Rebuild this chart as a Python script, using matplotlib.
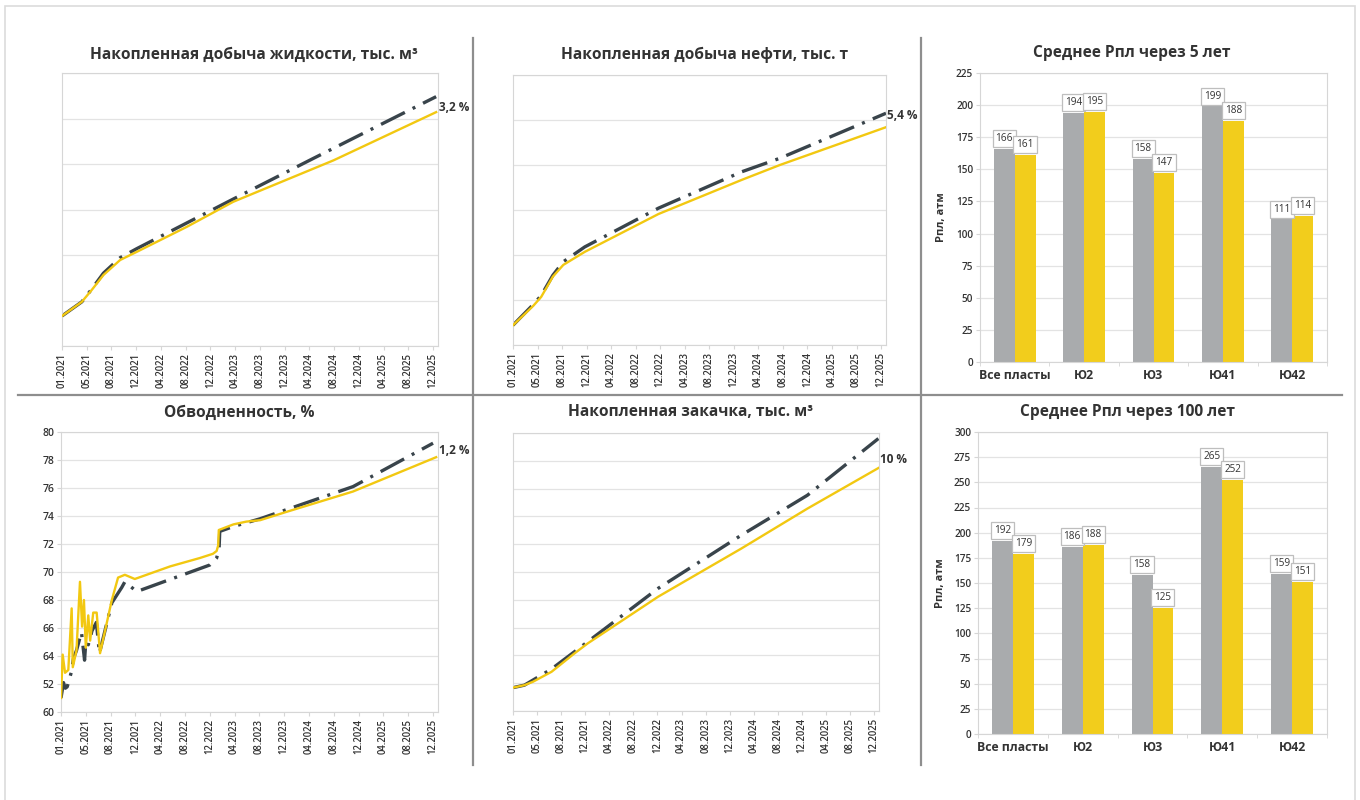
import matplotlib
matplotlib.use("Agg")
import matplotlib.pyplot as plt
from matplotlib.lines import Line2D
from matplotlib.patches import Rectangle
import numpy as np

plt.rcParams['font.family'] = ['Open Sans', 'DejaVu Sans']

W, H = 1360, 800
YELLOW = "#F2C811"
DARK = "#39444B"
BAR_GRAY = "#A9ABAD"
BAR_YELLOW = "#F2CD1C"
GRID = "#E3E3E3"
SPINE = "#D6D6D6"
TEXT = "#333333"

# monthly axis, labels every 4th category
date_labels = ["01.2021", "05.2021", "08.2021", "12.2021", "04.2022", "08.2022",
               "12.2022", "04.2023", "08.2023", "12.2023", "04.2024", "08.2024",
               "12.2024", "04.2025", "08.2025", "12.2025"]
date_ticks = list(range(0, 61, 4))

# cumulative liquid (grid units)
liq_new_m = [0, 3.2, 4.8, 6.7, 9.4, 12.1, 20.2, 27.7, 43.9, 60.5]
liq_new_v = [0.66, 0.97, 1.23, 1.56, 1.89, 2.07, 2.62, 3.17, 4.08, 5.14]
liq_base_m = [0, 3.2, 4.8, 6.7, 9.4, 12.1, 27.7, 40.6, 60.5]
liq_base_v = [0.66, 0.97, 1.25, 1.60, 1.94, 2.14, 3.23, 4.12, 5.48]

# cumulative oil
oil_m = [0, 3.3, 4.6, 6.5, 8.2, 11.7, 23.7, 37.3, 43.5, 60.8]
oil_new_v = [0.44, 0.87, 1.07, 1.52, 1.78, 2.07, 2.91, 3.67, 4.00, 4.84]
oil_base_v = [0.44, 0.90, 1.10, 1.55, 1.85, 2.18, 3.04, 3.85, 4.15, 5.15]

# water cut, %
wc_new_m = [0, 0.27, 0.65, 1.18, 1.72, 1.9, 2.5, 3.06, 3.4, 3.7, 4.0, 4.4, 4.7,
            5.2, 5.75, 6.3, 8.2, 9.2, 10.3, 11.9, 17.6, 22.4, 24.5, 25.1, 25.35,
            25.45, 27.8, 29.9, 32.1, 36.4, 40.1, 47.1, 60.5]
wc_new_v = [61.0, 64.1, 62.8, 63.0, 67.4, 63.2, 64.4, 69.3, 66.1, 68.0, 64.6, 66.9,
            65.1, 67.1, 67.1, 64.2, 68.0, 69.6, 69.8, 69.5, 70.4, 71.0, 71.3, 71.5,
            71.9, 73.0, 73.4, 73.6, 73.7, 74.3, 74.8, 75.75, 78.2]
wc_base_m = [0, 0.4, 0.7, 1.0, 1.7, 2.0, 2.5, 3.3, 3.8, 4.0, 4.4, 5.0, 5.7, 6.2,
             8.2, 9.8, 10.3, 11.4, 12.2, 24.0, 25.1, 25.5, 25.6, 27.8, 32.1, 47.1, 60.0]
wc_base_v = [61.0, 62.1, 61.7, 61.8, 62.9, 63.8, 64.4, 65.7, 63.7, 65.0, 64.8, 65.8,
             66.4, 64.2, 67.8, 68.9, 69.3, 68.9, 68.6, 70.5, 71.0, 71.7, 72.9, 73.25,
             73.8, 76.1, 79.2]
wc_ticks = list(range(60, 81, 2))
wc_tick_labels = ["60", "52", "64", "66", "68", "70", "72", "74", "76", "78", "80"]

# cumulative injection
inj_m = [0, 1.9, 3.3, 6.4, 10.2, 12.4, 24.1, 37.9, 48.9, 60.7]
inj_new_v = [0.84, 0.93, 1.05, 1.41, 2.07, 2.43, 4.11, 5.84, 7.28, 8.74]
inj_base_v = [0.84, 0.93, 1.11, 1.51, 2.13, 2.49, 4.41, 6.32, 7.76, 9.80]

# reservoir pressure by layer
layers = ["Все пласты", "Ю2", "Ю3", "Ю41", "Ю42"]
p5_base = [166, 194, 158, 199, 111]
p5_new = [161, 195, 147, 188, 114]
p100_base = [192, 186, 158, 265, 159]
p100_new = [179, 188, 125, 252, 151]


def px_axes(fig, x0, y0, x1, y1):
    return fig.add_axes([x0 / W, 1 - y1 / H, (x1 - x0) / W, (y1 - y0) / H])


def style_frame(ax):
    for s in ax.spines.values():
        s.set_color(SPINE)
        s.set_linewidth(0.8)
    ax.set_axisbelow(True)
    ax.grid(axis="y", color=GRID, lw=0.9)


def line_panel(fig, rect, m_new, v_new, m_base, v_base, ylim, pct, pct_y,
               yticks=None, ylabels=None):
    ax = px_axes(fig, *rect)
    style_frame(ax)
    ax.plot(m_base, v_base, color=DARK, lw=2.4, ls=(0, (8, 2.6, 0.9, 2.6)), zorder=2)
    ax.plot(m_new, v_new, color=YELLOW, lw=1.7, zorder=3)
    ax.set_xlim(0, 60.8)
    ax.set_ylim(*ylim)
    ax.set_xticks(date_ticks)
    ax.set_xticklabels(date_labels, rotation=90, fontsize=6.9, color=TEXT,
                       fontweight="semibold")
    ax.tick_params(axis="x", length=3, color=SPINE, pad=2)
    if yticks is None:
        ax.set_yticks(np.arange(ylim[0], ylim[1] + 1, 1))
        ax.tick_params(axis="y", length=0, labelleft=False)
    else:
        ax.set_yticks(yticks)
        ax.set_yticklabels(ylabels, fontsize=7.5, color=TEXT, fontweight="semibold")
        ax.tick_params(axis="y", length=3, color=SPINE, pad=2)
    ax.text(61.0, pct_y, pct, fontsize=8.5, fontweight="bold", color=TEXT,
            ha="left", va="center", clip_on=False)
    return ax


def bar_panel(fig, rect, base, new, ymax, label_x):
    ax = px_axes(fig, *rect)
    style_frame(ax)
    x = np.arange(len(layers))
    w = 0.3
    b1 = ax.bar(x - w / 2, base, w, color=BAR_GRAY, zorder=2)
    b2 = ax.bar(x + w / 2, new, w, color=BAR_YELLOW, zorder=2)
    box = dict(boxstyle="square,pad=0.3", fc="white", ec="#BEBEBE", lw=0.9)
    for bars in (b1, b2):
        for b in bars:
            v = b.get_height()
            ax.annotate(f"{v:.0f}", (b.get_x() + b.get_width() / 2, v),
                        xytext=(0, 3.5), textcoords="offset points",
                        ha="center", va="bottom", fontsize=7.2, color=TEXT,
                        bbox=box, zorder=4)
    ax.set_xlim(-0.5, len(layers) - 0.5)
    ax.set_ylim(0, ymax)
    ax.set_yticks(np.arange(0, ymax + 1, 25))
    ax.tick_params(axis="y", labelsize=7.2, colors=TEXT, length=3, pad=2)
    for t in ax.get_yticklabels():
        t.set_fontweight("semibold")
    ax.tick_params(axis="y", color=SPINE)
    ax.set_xticks(x)
    ax.set_xticklabels(layers, fontsize=8.8, fontweight="bold", color=TEXT)
    ax.tick_params(axis="x", length=0, pad=5)
    ax.set_xticks(np.arange(-0.5, len(layers), 1), minor=True)
    ax.tick_params(axis="x", which="minor", length=3, color=SPINE)
    ax.set_ylabel("Рпл, атм", fontsize=8, fontweight="bold", color=TEXT)
    ax.yaxis.set_label_coords(label_x, 0.5)
    return ax


fig = plt.figure(figsize=(W / 100, H / 100), dpi=100)
fig.patch.set_facecolor("white")

# outer frame and panel separators
fig.add_artist(Rectangle((5 / W, -0.01), 1350 / W, 1 - 6 / H + 0.01,
                         transform=fig.transFigure, fill=False,
                         ec="#DCDCDC", lw=1.2))
for xs, ys in [((473, 473), (38, 765)), ((921, 921), (38, 765)),
               ((18, 1342), (395, 395))]:
    fig.add_artist(Line2D([xs[0] / W, xs[1] / W], [1 - ys[0] / H, 1 - ys[1] / H],
                          transform=fig.transFigure, color="#8E8E8E", lw=1.6))

line_panel(fig, (62, 73, 438, 346), liq_new_m, liq_new_v, liq_base_m, liq_base_v,
           (0, 6), "3,2 %", 5.25)
line_panel(fig, (513, 75, 886, 345), oil_m, oil_new_v, oil_m, oil_base_v,
           (0, 6), "5,4 %", 5.1)
line_panel(fig, (61, 432, 438, 712), wc_new_m, wc_new_v, wc_base_m, wc_base_v,
           (60, 80), "1,2 %", 78.7, yticks=wc_ticks, ylabels=wc_tick_labels)
line_panel(fig, (513, 433, 879, 711), inj_m, inj_new_v, inj_m, inj_base_v,
           (0, 10), "10 %", 9.05)

bar_panel(fig, (980, 73, 1327, 362), p5_base, p5_new, 225, -0.095)
bar_panel(fig, (978, 432, 1327, 734), p100_base, p100_new, 300, -0.092)

titles = [("Накопленная добыча жидкости, тыс. м³", 254, 55),
          ("Накопленная добыча нефти, тыс. т", 705, 55),
          ("Среднее Рпл через 5 лет", 1132, 53),
          ("Обводненность, %", 239, 413),
          ("Накопленная закачка, тыс. м³", 691, 412),
          ("Среднее Рпл через 100 лет", 1127, 412)]
for t, x, y in titles:
    fig.text(x / W, 1 - y / H, t, ha="center", va="center", fontsize=11.2,
             fontweight="bold", color=TEXT)

fig.savefig("out.png", dpi=100, facecolor="white")
